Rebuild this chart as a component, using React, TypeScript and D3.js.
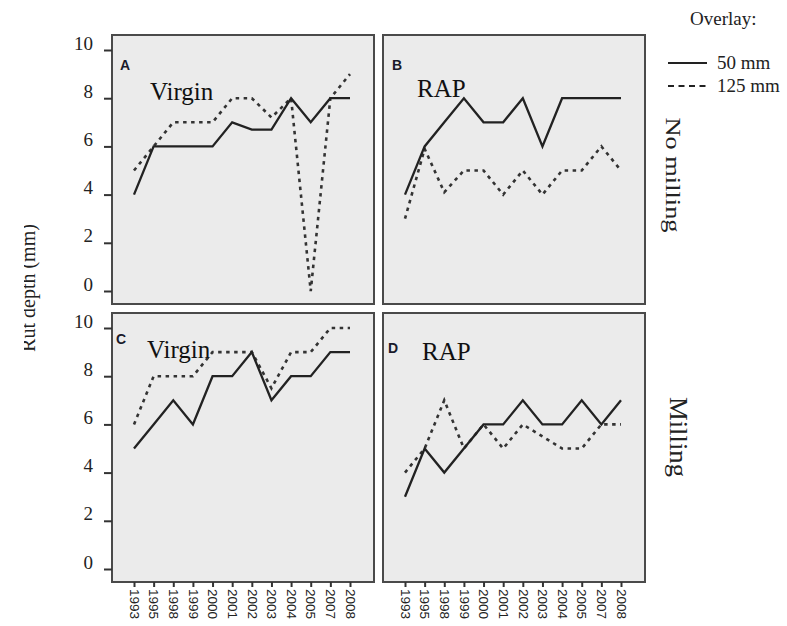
import React, { useRef, useEffect } from 'react';
import * as d3 from 'd3';

const years = ['1993', '1995', '1998', '1999', '2000', '2001', '2002', '2003', '2004', '2005', '2007', '2008'];
const yTicks = [0, 2, 4, 6, 8, 10];

// rut depth, overlay 50 mm (solid) and 125 mm (dotted)
const virginNoMill50 = [4, 6, 6, 6, 6, 7, 6.7, 6.7, 8, 7, 8, 8];
const virginNoMill125 = [5, 6, 7, 7, 7, 8, 8, 7.2, 8, 0, 8, 9];
const rapNoMill50 = [4, 6, 7, 8, 7, 7, 8, 6, 8, 8, 8, 8];
const rapNoMill125 = [3, 5.9, 4.1, 5, 5, 4, 5, 4, 5, 5, 6, 5];
const virginMill50 = [5, 6, 7, 6, 8, 8, 9, 7, 8, 8, 9, 9];
const virginMill125 = [6, 8, 8, 8, 9, 9, 9, 7.5, 9, 9, 10, 10];
const rapMill50 = [3, 5, 4, 5, 6, 6, 7, 6, 6, 7, 6, 7];
const rapMill125 = [4, 5, 7, 5, 6, 5, 6, 5.5, 5, 5, 6, 6];

const panelLetters = ['A', 'B', 'C', 'D'];
const panelTitles = ['Virgin', 'RAP', 'Virgin', 'RAP'];
const rowLabels = ['No milling', 'Milling'];
const legendLabels = ['50 mm', '125 mm'];

const App = () => {
  const svgRef = useRef<SVGSVGElement>(null);

  useEffect(() => {
    const root = d3.select(svgRef.current);
    root.selectAll('*').remove();

    const W = 787, H = 626;
    const pw = 262, ph = 269;
    const cols = [112, 383];
    const rows = [35, 313];
    const ink = '#222';
    const serif = '"Liberation Serif", "Times New Roman", serif';

    const panels = [
      { s50: virginNoMill50, s125: virginNoMill125, col: 0, row: 0, title: [38, 65], letter: [8, 35] },
      { s50: rapNoMill50, s125: rapNoMill125, col: 1, row: 0, title: [34, 62], letter: [9, 35] },
      { s50: virginMill50, s125: virginMill125, col: 0, row: 1, title: [35, 45], letter: [4, 31] },
      { s50: rapMill50, s125: rapMill125, col: 1, row: 1, title: [39, 47], letter: [5, 40] },
    ];

    const x = d3.scalePoint<string>().domain(years).range([22, pw - 24]);
    const y = d3.scaleLinear().domain([0, 10]).range([ph - 13, 15]);

    const line = d3.line<number>()
      .x((_, i) => x(years[i]) as number)
      .y(d => y(d));

    root.attr('width', W).attr('height', H);
    root.append('rect').attr('width', W).attr('height', H).attr('fill', '#fff');

    panels.forEach((p, idx) => {
      const g = root.append('g')
        .attr('transform', `translate(${cols[p.col]},${rows[p.row]})`);

      g.append('rect')
        .attr('width', pw).attr('height', ph)
        .attr('fill', '#ebebeb')
        .attr('stroke', '#4a4a4a')
        .attr('stroke-width', 2);

      // y axis on left column
      if (p.col === 0) {
        const ax = g.append('g')
          .call(d3.axisLeft(y).tickValues(yTicks).tickSize(8).tickPadding(11).tickFormat(d3.format('d')));
        ax.select('.domain').remove();
        ax.selectAll('line').attr('stroke', '#333').attr('stroke-width', 2);
        ax.selectAll('text')
          .attr('dy', '-0.05em')
          .attr('font-family', serif)
          .attr('font-size', 19)
          .attr('fill', '#222');
      }

      // x axis on bottom row
      if (p.row === 1) {
        const ax = g.append('g')
          .attr('transform', `translate(0,${ph})`)
          .call(d3.axisBottom(x).tickSize(5).tickPadding(0));
        ax.select('.domain').remove();
        ax.selectAll('line').attr('stroke', '#333').attr('stroke-width', 2);
        ax.selectAll('text')
          .attr('transform', 'rotate(90)')
          .attr('x', 7).attr('y', 0).attr('dy', '0.35em')
          .attr('text-anchor', 'start')
          .attr('font-family', '"Liberation Sans", Arial, sans-serif')
          .attr('font-size', 13.5)
          .attr('fill', '#222');
      }

      g.append('path')
        .datum(p.s125)
        .attr('d', line)
        .attr('fill', 'none')
        .attr('stroke', '#333')
        .attr('stroke-width', 2.6)
        .attr('stroke-dasharray', '3.5,4.5');

      g.append('path')
        .datum(p.s50)
        .attr('d', line)
        .attr('fill', 'none')
        .attr('stroke', ink)
        .attr('stroke-width', 2.3)
        .attr('stroke-linejoin', 'miter');

      g.append('text')
        .attr('x', p.letter[0]).attr('y', p.letter[1])
        .attr('font-family', '"Liberation Sans", Arial, sans-serif')
        .attr('font-weight', 'bold')
        .attr('font-size', 14)
        .attr('fill', '#1a1a2a')
        .text(panelLetters[idx]);

      g.append('text')
        .attr('x', p.title[0]).attr('y', p.title[1])
        .attr('font-family', serif)
        .attr('font-size', 25)
        .attr('fill', '#111')
        .text(panelTitles[idx]);
    });

    // y title, its left edge trimmed like the source scan
    root.append('clipPath').attr('id', 'ytitle-clip')
      .append('rect').attr('x', 24).attr('y', 0).attr('width', 60).attr('height', H);
    root.append('g')
      .attr('clip-path', 'url(#ytitle-clip)')
      .append('text')
      .attr('transform', 'translate(35,288) rotate(-90)')
      .attr('text-anchor', 'middle')
      .attr('font-family', serif)
      .attr('font-size', 20)
      .attr('fill', '#222')
      .text('Rut depth (mm)');

    // row labels on the right
    const rowPos = [[666, 175, 115, 21], [670, 437, 80, 25]];
    rowLabels.forEach((lab, i) => {
      root.append('text')
        .attr('transform', `translate(${rowPos[i][0]},${rowPos[i][1]}) rotate(90)`)
        .attr('text-anchor', 'middle')
        .attr('textLength', rowPos[i][2])
        .attr('lengthAdjust', 'spacingAndGlyphs')
        .attr('font-family', serif)
        .attr('font-size', rowPos[i][3])
        .attr('fill', '#222')
        .text(lab);
    });

    // legend
    root.append('text')
      .attr('x', 690).attr('y', 25)
      .attr('font-family', serif).attr('font-size', 19)
      .attr('fill', '#222')
      .text('Overlay:');
    const legY = [63, 86];
    legendLabels.forEach((lab, i) => {
      root.append('line')
        .attr('x1', 668).attr('x2', 707)
        .attr('y1', legY[i]).attr('y2', legY[i])
        .attr('stroke', ink)
        .attr('stroke-width', 2.2)
        .attr('stroke-dasharray', i === 0 ? null : '6,4.5');
      root.append('text')
        .attr('x', 717).attr('y', legY[i] + 6)
        .attr('font-family', serif).attr('font-size', 19)
        .attr('fill', '#222')
        .text(lab);
    });
  }, []);

  return (
    <div style={{ position: 'absolute', left: 0, top: 0 }}>
      <svg ref={svgRef} style={{ display: 'block' }}></svg>
    </div>
  );
};

export default App;
